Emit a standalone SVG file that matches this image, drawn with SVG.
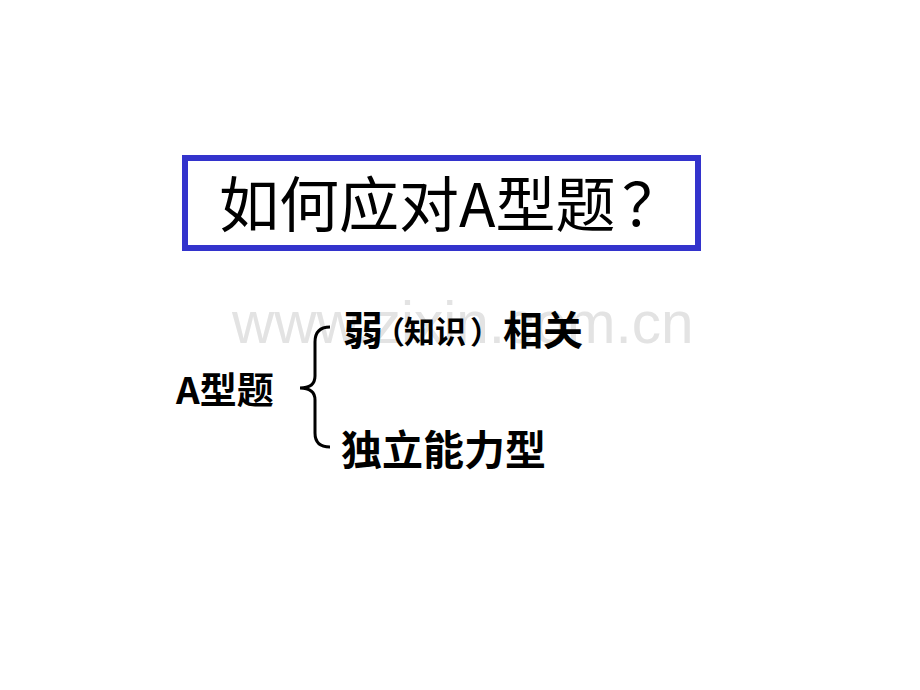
<svg xmlns="http://www.w3.org/2000/svg" width="920" height="690" viewBox="0 0 920 690">
<style>
.t{font-family:"Noto Sans CJK SC","Noto Sans",sans-serif;fill:#000}
.b{font-weight:bold}
.wm{font-family:"Liberation Sans",Arial,sans-serif;fill:#e3e3e3}
.p{font-size:31px}
</style>
<rect width="920" height="690" fill="#fff"/>
<text class="wm" x="232" y="343" font-size="58.5">www.zixin.com.cn</text>
<g id="title">
<rect x="185" y="158" width="513" height="90" fill="none" stroke="#3333cc" stroke-width="6"/>
<text class="t" x="219" y="227" font-size="60">如何应对A型题<tspan x="622">？</tspan></text>
</g>
<g id="root">
<text class="t b" x="176" y="404" font-size="37">A型题</text>
</g>
<g id="branch1">
<text class="t b" x="343" y="345" font-size="40">弱<tspan class="p" x="374" y="343">（</tspan><tspan class="p" x="404" y="343">知识</tspan><tspan class="p" x="470" y="343">）</tspan><tspan x="503" y="345">相关</tspan></text>
</g>
<g id="branch2">
<text class="t b" x="341" y="465" font-size="41">独立能力型</text>
</g>
<g id="connectors">
<path d="M330,327 Q315,327 315,342 L315,376 Q315,388 300,388 Q315,388 315,400 L315,433 Q315,447 330,447" fill="none" stroke="#000" stroke-width="3"/>
</g>
</svg>
